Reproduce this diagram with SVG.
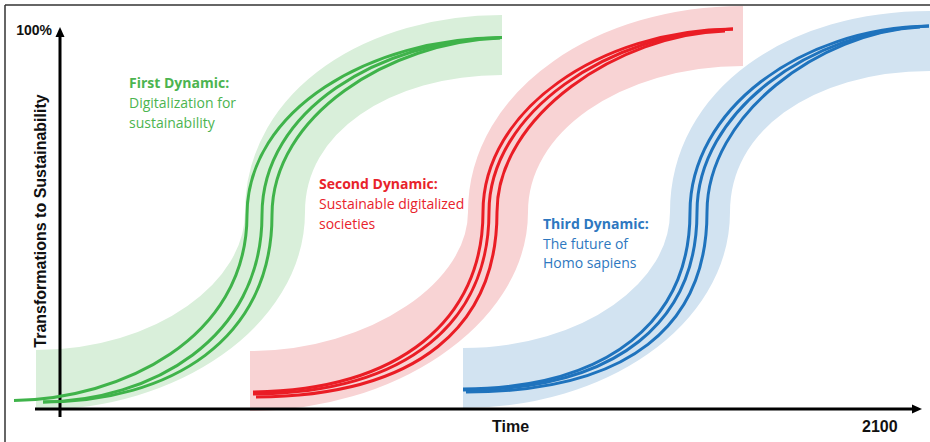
<svg xmlns="http://www.w3.org/2000/svg" width="930" height="442" viewBox="0 0 930 442">
  <style>
    .band { fill: none; stroke-width: 60; stroke-linecap: butt; }
    .line { fill: none; stroke-width: 3; stroke-linecap: butt; }
    .axis { fill: none; stroke: #000; stroke-width: 3; }
    .lbl { font-family: "Liberation Sans", Arial, sans-serif; font-weight: bold; fill: #111; }
    .dyn { font-family: "Open Sans", "Liberation Sans", sans-serif; font-size: 14px; }
    .dyn .h { font-weight: bold; }
  </style>

  <!-- frame -->
  <g id="frame" stroke="#333" stroke-width="1.5">
    <line x1="5" y1="5" x2="930" y2="5"/>
    <line x1="5" y1="5" x2="5" y2="442"/>
  </g>

  <!-- shaded corridors -->
  <g id="bands">
    <path class="band" stroke="#d9efda" d="M36,380 C167,380 275,304 275,212 C275,110 380,45 502,45"/>
    <path class="band" stroke="#f8d3d4" d="M250,381 C381,381 498,304 498,212 C498,110 610,36 743,36"/>
    <path class="band" stroke="#d2e3f1" d="M463,378 C594,378 700,304 700,212 C700,110 800,41 930,41"/>
  </g>

  <!-- axes -->
  <g id="axes">
    <line class="axis" x1="60" y1="417" x2="60" y2="35"/>
    <polygon points="60,27 55.5,37 64.5,37" fill="#000"/>
    <line class="axis" x1="35" y1="409" x2="913" y2="409"/>
    <polygon points="922,409 912,404.5 912,413.5" fill="#000"/>
  </g>

  <!-- trajectories -->
  <g id="connectors">
    <g stroke="#3fb34a">
      <path class="line" d="M14,400.5 C120,399 247,340 247,215 C247,110 370,38 502,37.5"/>
      <path class="line" d="M43,402 C150,401 262,340 262,215 C262,110 380,40 502,37.5"/>
      <path class="line" d="M43,402 C170,402 272,340 272,215 C272,115 390,42 500,38"/>
    </g>
    <g stroke="#ea1d25">
      <path class="line" d="M253,392 C400,390 483,320 483,212 C483,110 600,30 733,29"/>
      <path class="line" d="M253,394 C410,393 489,320 489,212 C489,112 610,32 733,29"/>
      <path class="line" d="M256,397 C420,396 497,325 497,212 C497,115 620,34 725,31"/>
    </g>
    <g stroke="#1f73bd">
      <path class="line" d="M463,389 C610,388 690,320 690,212 C690,110 800,28 929,26"/>
      <path class="line" d="M463,390 C620,390 697,320 697,212 C697,112 810,30 929,26"/>
      <path class="line" d="M466,392 C630,392 707,325 707,212 C707,115 820,32 920,27"/>
    </g>
  </g>

  <!-- axis labels -->
  <g id="labels" class="lbl">
    <text x="52" y="35" font-size="14" text-anchor="end">100%</text>
    <text transform="translate(46,221) rotate(-90)" font-size="16" text-anchor="middle">Transformations to Sustainability</text>
    <text x="492" y="432" font-size="16">Time</text>
    <text x="862" y="432" font-size="16">2100</text>
  </g>

  <g id="first-dynamic" class="dyn" fill="#4cb450">
    <text x="129" y="88" class="h">First Dynamic:</text>
    <text x="129" y="108">Digitalization for</text>
    <text x="129" y="127.5">sustainability</text>
  </g>
  <g id="second-dynamic" class="dyn" fill="#e8232b">
    <text x="319" y="189" class="h">Second Dynamic:</text>
    <text x="319" y="209">Sustainable digitalized</text>
    <text x="319" y="228.5">societies</text>
  </g>
  <g id="third-dynamic" class="dyn" fill="#2e78c0">
    <text x="543" y="229" class="h">Third Dynamic:</text>
    <text x="543" y="248.5">The future of</text>
    <text x="543" y="268">Homo sapiens</text>
  </g>
</svg>
